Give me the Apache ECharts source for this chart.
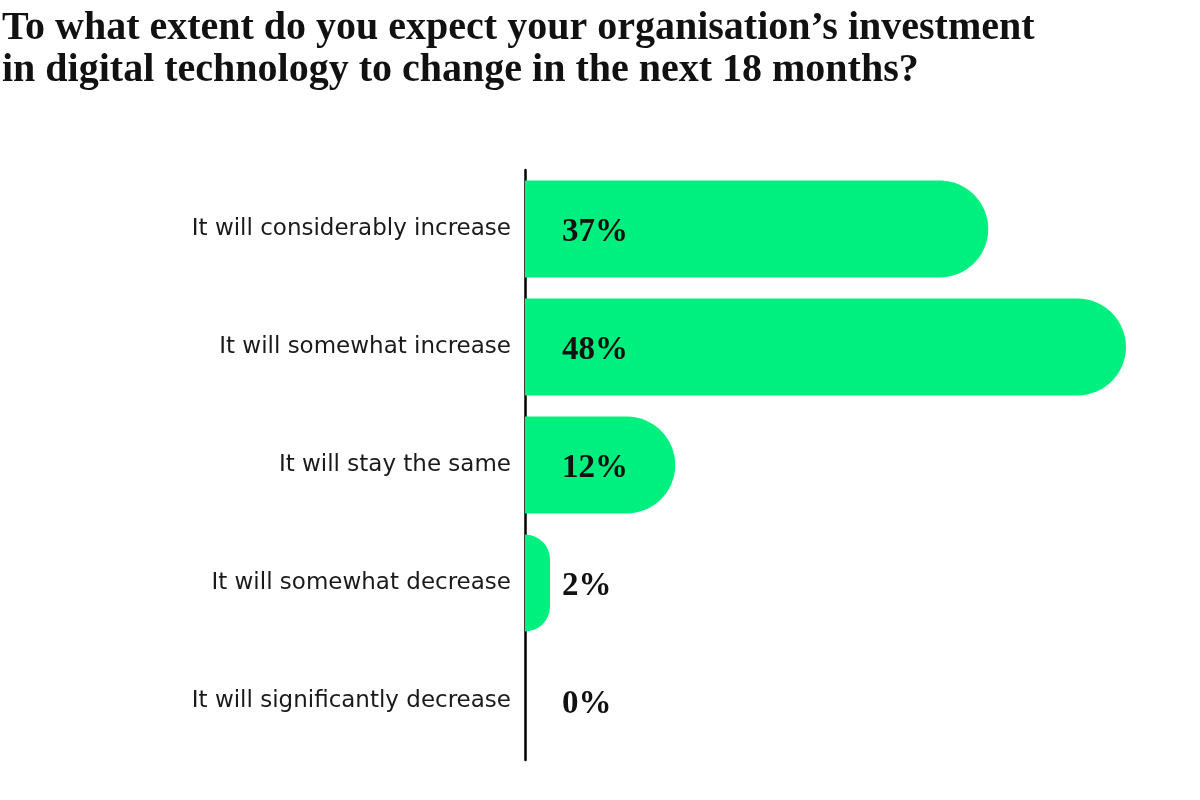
<!DOCTYPE html>
<html>
<head>
<meta charset="utf-8">
<script src="https://cdn.jsdelivr.net/npm/echarts@6/dist/echarts.min.js"></script>
<style>
html,body{margin:0;padding:0;background:#fff;}
#c{width:1200px;height:800px;}
</style>
</head>
<body>
<div id="c"></div>
<script>
const titleText = "To what extent do you expect your organisation\u2019s investment\nin digital technology to change in the next 18 months?";
const categories = [
  "It will considerably increase",
  "It will somewhat increase",
  "It will stay the same",
  "It will somewhat decrease",
  "It will significantly decrease"
];
const values = [37, 48, 12, 2, 0];

const chart = echarts.init(document.getElementById('c'), null, {renderer: 'canvas'});
chart.setOption({
  backgroundColor: '#ffffff',
  animation: false,
  title: {
    text: titleText,
    left: -3,
    top: 3,
    textStyle: {
      fontFamily: 'Liberation Serif',
      fontWeight: 'bold',
      fontSize: 40,
      lineHeight: 42,
      color: '#111111'
    }
  },
  grid: {left: 525, right: 74, top: 170, bottom: 40, containLabel: false},
  xAxis: {
    type: 'value', min: 0, max: 48, show: false
  },
  yAxis: {
    type: 'category',
    data: categories,
    inverse: true,
    axisLine: {show: true, lineStyle: {color: '#000000', width: 2.5}},
    axisTick: {show: false},
    splitLine: {show: false},
    axisLabel: {
      margin: 14,
      fontFamily: 'DejaVu Sans',
      fontSize: 23,
      color: '#1a1a1a'
    }
  },
  series: [{
    type: 'bar',
    data: values,
    barWidth: 97,
    itemStyle: {color: '#00F07F', borderRadius: [0, 49, 49, 0]},
    label: {
      show: true,
      position: [37, '50%'],
      offset: [0, 3],
      align: 'left',
      verticalAlign: 'middle',
      formatter: '{c}%',
      fontFamily: 'Liberation Serif',
      fontWeight: 'bold',
      fontSize: 33,
      color: '#111111'
    }
  }]
});
</script>
</body>
</html>
